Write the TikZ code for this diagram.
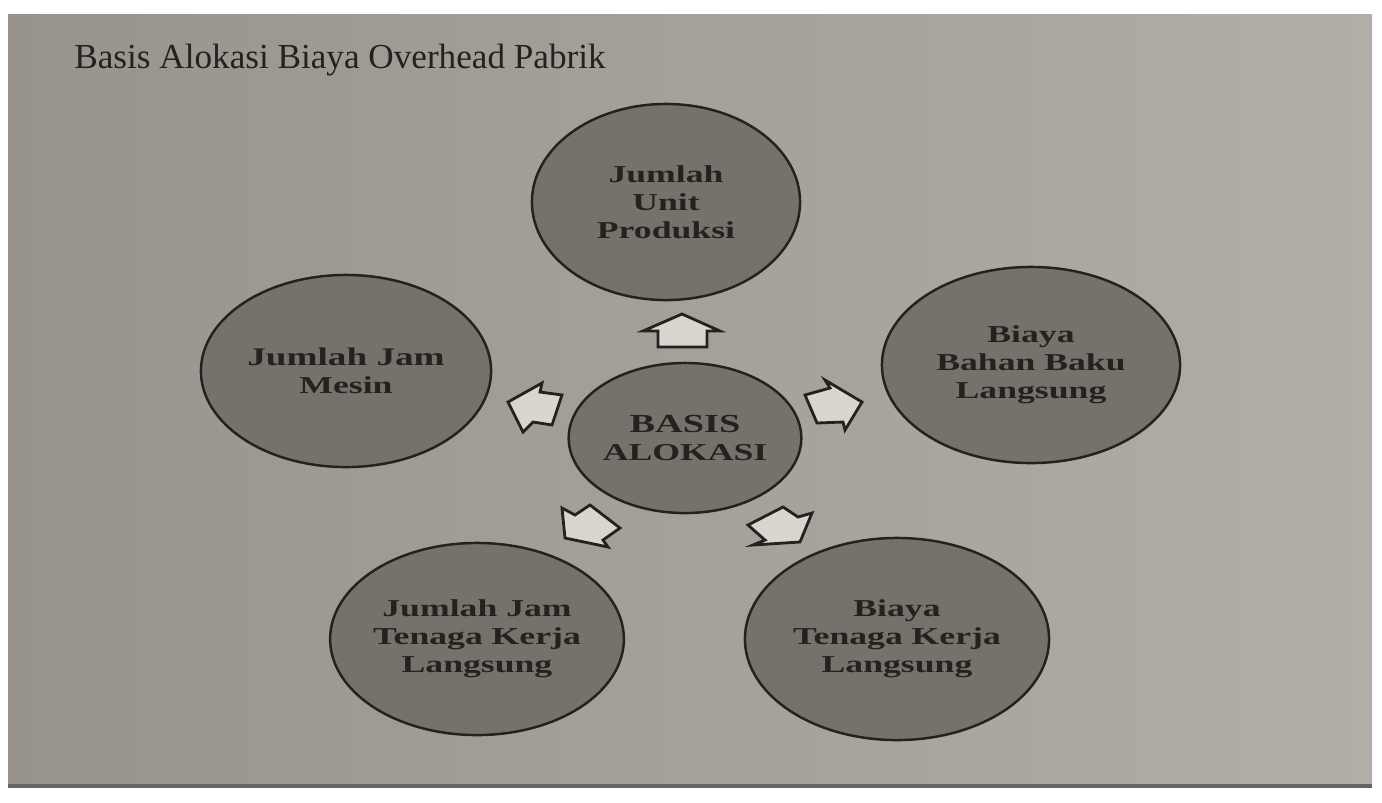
\documentclass[tikz,border=0pt]{standalone}
\usepackage{fontspec}
\setmainfont{Liberation Serif}
\newfontfamily\circlefont[FakeStretch=1.47]{Liberation Serif}
\usetikzlibrary{shapes.geometric,positioning}

\definecolor{pageleft}{RGB}{152,147,140}
\definecolor{pageright}{RGB}{178,173,166}
\definecolor{discfill}{RGB}{118,113,107}
\definecolor{arrowfill}{RGB}{218,213,207}
\definecolor{inkcol}{RGB}{38,33,30}

\tikzset{
  disc/.style={ellipse, draw=inkcol, line width=0.7pt, fill=discfill, align=center,
    text=inkcol, inner sep=0pt, font=\circlefont\bfseries\fontsize{6.9}{7.9}\selectfont},
  blockarrow/.style={draw=inkcol, line width=0.8pt, fill=arrowfill, line join=miter},
}

\begin{document}
\begin{tikzpicture}[x=0.01cm,y=-0.01cm]
    \useasboundingbox (0,0) rectangle (1382,802);
    % page of the book
    \fill[white] (0,0) rectangle (1382,802);
    \shade[left color=pageleft, right color=pageright] (8,14) rectangle (1372,786);
    \draw[inkcol!70, line width=1pt] (8,786) -- (1372,786);

    \node[anchor=base west, text=inkcol, font=\fontsize{10}{12}\selectfont] (title) at (62,68)
        {Basis Alokasi Biaya Overhead Pabrik};

    % centre and the five bases
    \node[disc, minimum width=2.26cm, minimum height=1.50cm] (basis) at (685,438)
        {\fontsize{7.4}{8.6}\selectfont BASIS\\ALOKASI};
    \node[disc, minimum width=2.68cm, minimum height=1.96cm] (unit) at (666,202)
        {Jumlah\\Unit\\Produksi};
    \node[disc, minimum width=2.98cm, minimum height=1.96cm] (bahan) at (1031,365)
        {Biaya\\Bahan Baku\\Langsung};
    \node[disc, minimum width=2.90cm, minimum height=1.92cm] (mesin) at (346,371)
        {\fontsize{7.2}{8.2}\selectfont Jumlah Jam\\Mesin};
    \node[disc, minimum width=2.90cm, minimum height=1.92cm] (jamtk) at (477,639)
        {Jumlah Jam\\Tenaga Kerja\\Langsung};
    \node[disc, minimum width=3.04cm, minimum height=2.02cm] (biayatk) at (897,639)
        {Biaya\\Tenaga Kerja\\Langsung};

    % block arrows out of the centre
    \draw[blockarrow] (682,314) -- (720,331) -- (707,331) -- (707,347) -- (658,347)
        -- (658,331) -- (643,331) -- cycle;
    \draw[blockarrow] (508,402) -- (542,383) -- (540,392) -- (562,395) -- (552,425)
        -- (533,422) -- (523,432) -- cycle;
    \draw[blockarrow] (862,402) -- (845,430) -- (843,422) -- (817,423) -- (805,395)
        -- (830,388) -- (825,380) -- cycle;
    \draw[blockarrow] (565,538) -- (562,508) -- (575,515) -- (590,505) -- (620,528)
        -- (603,540) -- (608,547) -- cycle;
    \draw[blockarrow] (800,542) -- (753,545) -- (765,540) -- (748,525) -- (783,507)
        -- (798,517) -- (812,513) -- cycle;
\end{tikzpicture}
\end{document}
